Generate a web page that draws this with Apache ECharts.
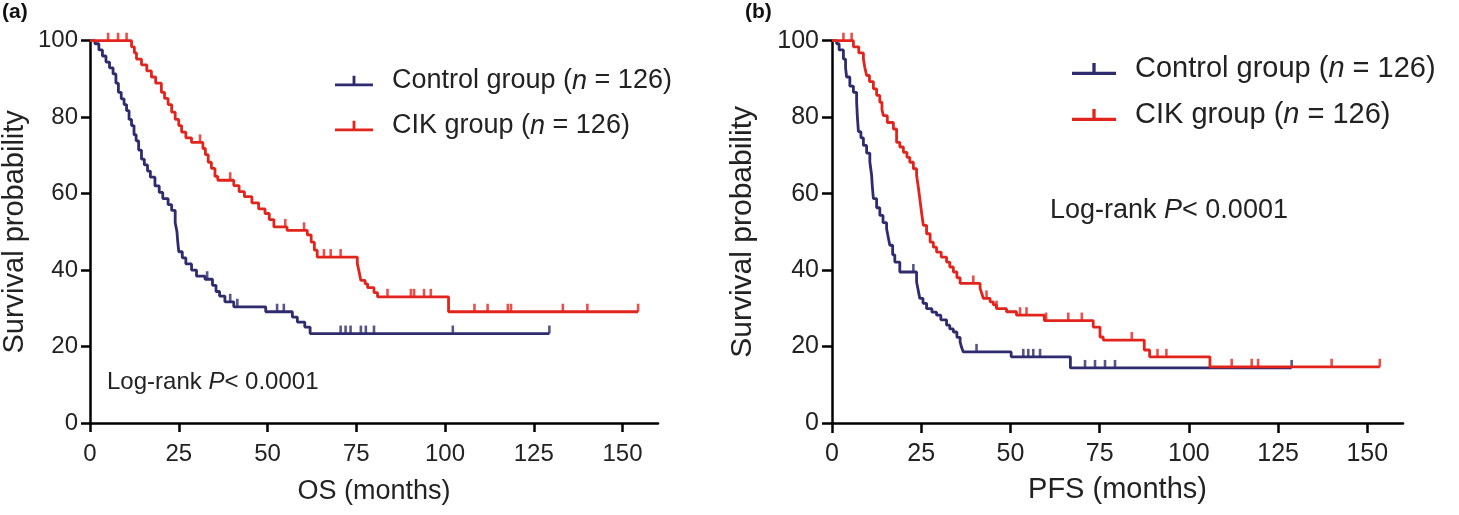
<!DOCTYPE html>
<html><head><meta charset="utf-8">
<script src="https://cdn.jsdelivr.net/npm/echarts@6/dist/echarts.min.js"></script>
<style>html,body{margin:0;padding:0;background:#fff}#c{width:1459px;height:515px}</style>
</head><body><div id="c"></div><script>
// ---------- data ----------
const xTicks = [0, 25, 50, 75, 100, 125, 150];
const yTicks = [0, 20, 40, 60, 80, 100];
const groupNames = ['Control group', 'CIK group'];
const groupN = [126, 126];

// (a) OS — [months, survival %]
const osControl = [[0,100],[1.4,99.2],[2.5,97.6],[3.5,96],[4.5,94.4],[5.5,92.9],[6.5,91.3],[7.3,88.9],[8,86.5],[8.8,84.8],[9.6,83.3],[10.3,81.7],[11,79.4],[11.7,77.8],[12.4,75.4],[13,73.8],[13.7,71.4],[14.5,69],[15.3,67.5],[16.2,65.9],[17,64.3],[18.3,62],[19.5,60.3],[20.5,58.7],[22,57.1],[23,55.6],[24,52.4],[24.5,50],[24.7,47.6],[25,44.8],[26,43.2],[27,41.6],[28.6,40],[30,38.4],[32.4,37.6],[34.5,36],[35.5,34.4],[36.5,33.2],[38,31.7],[40.5,30.4],[49.5,29.1],[57,27.7],[58.4,26.4],[60.5,25.1],[62,23.4],[129.4,23.4]];
const osControlCensor = [33, 39.5, 41.5, 52.7, 54.6, 70.6, 72, 73.4, 76.3, 77.7, 80, 102.2, 129.4];
const osCIK = [[0,100],[11.7,98.4],[12.5,96.8],[13.1,95.2],[14.5,93.7],[16,92.1],[17.3,90.5],[18.5,88.9],[20.1,86.5],[21,84.9],[22,83.3],[23,81.3],[24,79.4],[25,77.8],[25.8,76.1],[27,74.6],[28.6,73.4],[31.8,71.8],[32.5,70.2],[33.3,68.2],[34.2,66.6],[35.2,64.5],[36,63.5],[40.5,62.1],[42,60.5],[43.5,59.2],[45.6,57.6],[47.5,56],[49.3,54.8],[50.5,53.2],[51.8,51.3],[55.5,50.4],[61.2,49.2],[62.3,47.3],[63.2,45.2],[64,43.4],[75.3,41.7],[75.8,39.6],[76.3,37.3],[77.5,36.4],[78.2,35.4],[80,34.1],[81,33],[101,29.1],[154.4,29.1]];
const osCIKCensor = [5.1, 7.9, 10.3, 31, 39.5, 55, 60.3, 65.9, 67.8, 70.6, 83.8, 90.4, 91.3, 94.1, 96, 108.3, 112, 117.7, 118.6, 133.2, 140.1, 154.4];

// (b) PFS — [months, survival %]
const pfsControl = [[0,100],[1.3,99.2],[2,97.6],[3.2,95.2],[3.8,92.9],[4.1,90.5],[5,88.1],[6,86.5],[6.9,84.1],[7.1,80.2],[7.4,76.2],[8.1,74.6],[8.8,72.6],[9.7,70.6],[10.6,68.3],[11.1,64.8],[11.3,61.9],[11.6,58.7],[12.5,56.3],[13.4,54.3],[14.3,52.4],[15.3,50.8],[15.8,48.4],[16.2,46.5],[17,44],[17.6,42.1],[19,39.5],[23.7,36.9],[24.2,34.5],[24.6,32.6],[25.5,31.3],[26.5,29.9],[28,29],[29.3,28.2],[30.5,27],[32.1,25.6],[33,24.6],[34,23.8],[35,22.4],[35.9,21.2],[36.3,19.8],[36.8,18.6],[50.2,17.3],[66.8,14.4],[128.8,14.4]];
const pfsControlCensor = [22.8, 40.5, 53.6, 55, 56.4, 58.3, 70.9, 73.7, 76.5, 79.3, 128.8];
const pfsCIK = [[0,100],[6,98.4],[7.5,96.8],[8.8,95.2],[9.2,93],[9.7,90.9],[10.5,89.3],[11.6,87.4],[12.5,85.7],[13.4,83.9],[14,82],[14.4,80.4],[15.5,78.6],[17.2,76.9],[18.1,73.4],[19,72.2],[20,70.8],[21,69.5],[21.8,68.2],[22.8,66.5],[23.7,64.8],[24.2,61.6],[24.6,58.7],[25.1,55],[25.6,51.7],[26.5,49.5],[27.5,47.3],[28.4,46],[29.3,44.7],[30.6,43.4],[32.1,42.1],[33,40.8],[34,39.5],[35,38],[35.9,36.5],[41.5,35.2],[42,33.8],[42.4,32.6],[44.3,31.7],[45.2,30.9],[46.1,29.9],[48.9,29.1],[51.7,28.2],[59.5,26.8],[73.2,25.1],[75.1,22.5],[76,21.7],[87.5,19.1],[89,17.3],[105.9,14.7],[153.5,14.7]];
const pfsCIKCensor = [3.2, 5.5, 39.6, 43.3, 46.1, 52.7, 54.5, 60, 66.2, 70, 84, 91.2, 93.7, 112, 117.6, 119.4, 140, 153.5];

// ---------- helpers ----------
function stepAt(curve, t) {
  let s = curve[0][1];
  for (const p of curve) { if (p[0] <= t) s = p[1]; else break; }
  return s;
}
function censorPoints(curve, times) { return times.map(t => [t, stepAt(curve, t)]); }

const BLUE = '#2e2b6e', RED = '#e3241c';
const FONT = 'Liberation Sans';
const TXT = '#222';

const panels = [
  {grid:{left:90, top:40.7, width:568, height:382.3}, xName:'OS (months)', curves:[osControl, osCIK], censors:[osControlCensor, osCIKCensor],
   fs:{tick:24, xname:27, yname:29, legend:27}, yNameGap:61, xNameGap:55, yLabelMargin:12, xLabelMargin:19, tickLen:9,
   legend:{left:330, top:61, itemGap:15, iconW:38}, logrank:{x:107, y:385, fs:24}, tag:{x:2, y:13, text:'(a)'}},
  {grid:{left:832, top:40.7, width:571, height:382.3}, xName:'PFS (months)', curves:[pfsControl, pfsCIK], censors:[pfsControlCensor, pfsCIKCensor],
   fs:{tick:25, xname:29, yname:30, legend:29}, yNameGap:74, xNameGap:52, yLabelMargin:13, xLabelMargin:19, tickLen:10,
   legend:{left:1067, top:48, itemGap:14, iconW:44}, logrank:{x:1050, y:213, fs:27}, tag:{x:745, y:13, text:'(b)'}}
];

const option = {
  animation:false,
  backgroundColor:'#fff',
  grid: panels.map(p => Object.assign({outerBoundsMode:'none', containLabel:false}, p.grid)),
  xAxis: panels.map((p, i) => ({
    type:'value', gridIndex:i, min:0, max:160, interval:25,
    name:p.xName, nameLocation:'middle', nameGap:p.xNameGap,
    nameTextStyle:{fontFamily:FONT, fontSize:p.fs.xname, color:TXT},
    axisLine:{show:true, lineStyle:{color:'#000', width:2.5}},
    axisTick:{show:true, inside:false, length:p.tickLen, lineStyle:{color:'#000', width:2.5}, customValues:xTicks},
    axisLabel:{fontFamily:FONT, fontSize:p.fs.tick, color:TXT, margin:p.xLabelMargin, customValues:xTicks},
    splitLine:{show:false}
  })),
  yAxis: panels.map((p, i) => ({
    type:'value', gridIndex:i, min:0, max:100, interval:20,
    name:'Survival probability', nameLocation:'middle', nameGap:p.yNameGap, nameRotate:90,
    nameTextStyle:{fontFamily:FONT, fontSize:p.fs.yname, color:TXT},
    axisLine:{show:true, lineStyle:{color:'#000', width:2.5}},
    axisTick:{show:true, inside:false, length:p.tickLen, lineStyle:{color:'#000', width:2.5}, customValues:yTicks},
    axisLabel:{fontFamily:FONT, fontSize:p.fs.tick, color:TXT, margin:p.yLabelMargin, customValues:yTicks},
    splitLine:{show:false}
  })),
  legend: panels.map((p, i) => ({
    orient:'vertical', left:p.legend.left, top:p.legend.top, itemGap:p.legend.itemGap,
    itemWidth:p.legend.iconW, itemHeight:14, selectedMode:false,
    data: groupNames.map(n => ({name:n, icon:'path://M0,11L40,11L40,14L0,14Z M18.5,3L21.5,3L21.5,11L18.5,11Z'})),
    formatter: name => name + ' ({i|n} = ' + groupN[groupNames.indexOf(name)] + ')',
    textStyle:{fontFamily:FONT, fontSize:p.fs.legend, color:TXT, lineHeight:p.fs.legend + 3, padding:[0,0,0,14],
      rich:{i:{fontFamily:FONT, fontSize:p.fs.legend, fontStyle:'italic', color:TXT}}}
  })),
  series: [],
  graphic: []
};

panels.forEach((p, i) => {
  [BLUE, RED].forEach((col, g) => {
    option.series.push({
      name:groupNames[g], type:'line', xAxisIndex:i, yAxisIndex:i, step:'end',
      data:p.curves[g], showSymbol:false, symbol:'none', itemStyle:{color:col},
      lineStyle:{color:col, width:2.8}, clip:false, z:2 + g
    });
    option.series.push({
      name:groupNames[g] + ' censored', type:'scatter', xAxisIndex:i, yAxisIndex:i,
      data:censorPoints(p.curves[g], p.censors[g]),
      symbol:'rect', symbolSize:[2.6, 8], symbolOffset:[0, -4],
      itemStyle:{color:col}, z:2 + g, clip:false
    });
  });
  option.graphic.push({
    type:'text', left:p.logrank.x, top:p.logrank.y - p.logrank.fs * 0.6,
    style:{text:'Log-rank {i|P}< 0.0001', fill:TXT, font:p.logrank.fs + 'px "' + FONT + '"',
      rich:{i:{fontStyle:'italic', fontSize:p.logrank.fs, fontFamily:FONT, fill:TXT}}}
  });
  option.graphic.push({
    type:'text', left:p.tag.x, top:p.tag.y - 11,
    style:{text:p.tag.text, fill:'#111', font:'bold 21px "' + FONT + '"'}
  });
});

const chart = echarts.init(document.getElementById('c'), null, {renderer:'canvas'});
chart.setOption(option);
</script></body></html>
